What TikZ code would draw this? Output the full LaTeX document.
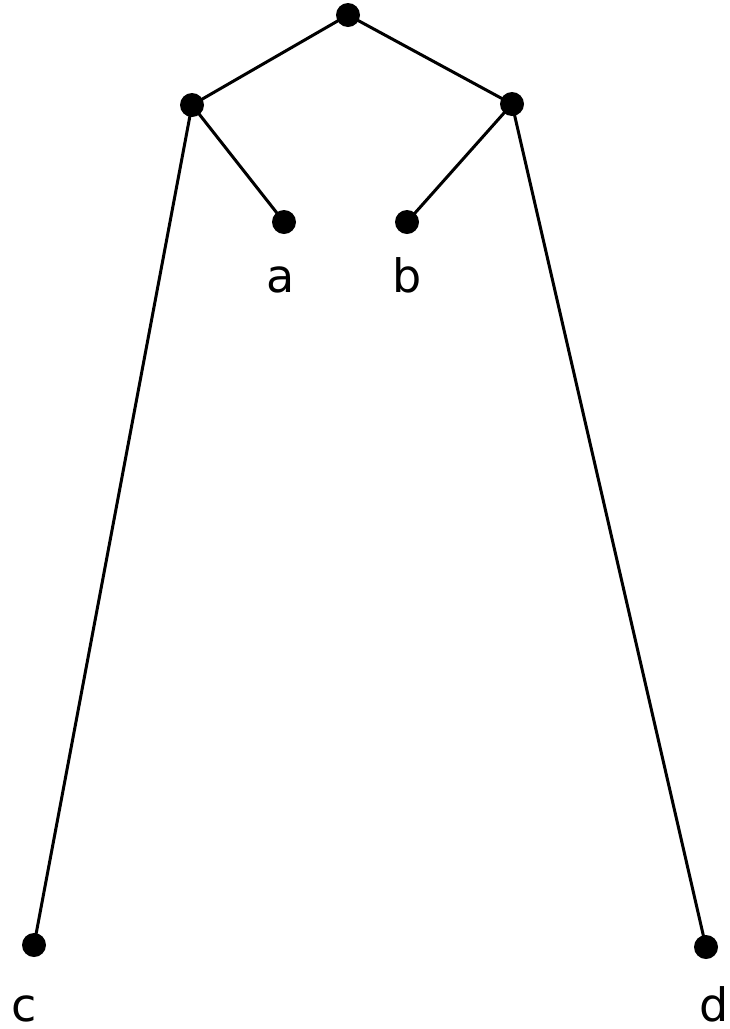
\documentclass[tikz,border=0pt]{standalone}
\usepackage{fontspec}
\setmainfont{DejaVu Sans}
\begin{document}
\begin{tikzpicture}[x=1pt,y=-1pt,
  dot/.style={circle,fill=black,inner sep=0pt,minimum size=24pt},
  edge/.style={line width=3pt},
  lab/.style={anchor=base,inner sep=0pt,font=\fontsize{46}{50}\selectfont}]
\useasboundingbox (0,0) rectangle (729,1029);
\node[dot] (r) at (348,15) {};
\node[dot] (l) at (192,105) {};
\node[dot] (rr) at (512,104) {};
\node[dot] (a) at (284,222) {};
\node[dot] (b) at (407,222) {};
\node[dot] (c) at (34,945) {};
\node[dot] (d) at (706,947) {};
\draw[edge] (r.center) -- (l.center);
\draw[edge] (r.center) -- (rr.center);
\draw[edge] (l.center) -- (a.center);
\draw[edge] (l.center) -- (c.center);
\draw[edge] (rr.center) -- (b.center);
\draw[edge] (rr.center) -- (d.center);
\node[lab] (la) at (281,292) {a};
\node[lab] (lb) at (407,292) {b};
\node[lab] (lc) at (24.5,1021) {c};
\node[lab] (ld) at (714,1021) {d};
\end{tikzpicture}
\end{document}
